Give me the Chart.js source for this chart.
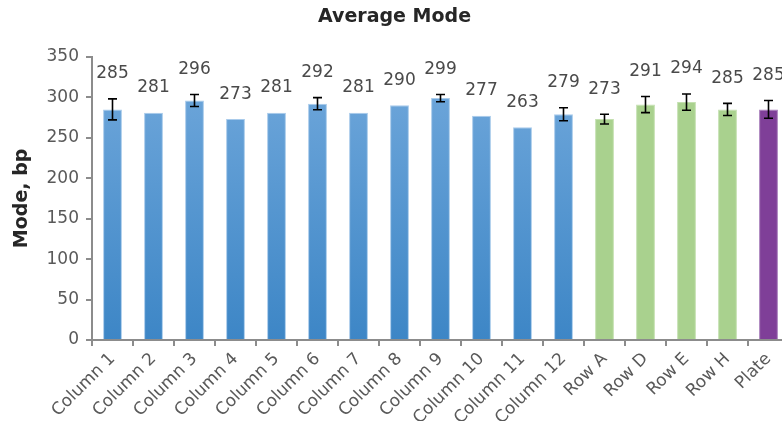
<!DOCTYPE html>
<html>
<head>
<meta charset="utf-8">
<script src="https://cdn.jsdelivr.net/npm/chart.js@4.4.1/dist/chart.umd.min.js"></script>
<style>
  html, body { margin: 0; padding: 0; background: #fff; overflow: hidden; }
  #wrap { width: 782px; height: 421px; overflow: hidden; }
</style>
</head>
<body>
<div id="wrap"><canvas id="chart" width="800" height="421"></canvas></div>
<script>
// --- Data ---
const categories = ['Column 1', 'Column 2', 'Column 3', 'Column 4', 'Column 5', 'Column 6',
    'Column 7', 'Column 8', 'Column 9', 'Column 10', 'Column 11', 'Column 12',
    'Row A', 'Row D', 'Row E', 'Row H', 'Plate'];
const modes = [285, 281, 296, 273, 281, 292, 281, 290, 299, 277, 263, 279, 273, 291, 294, 285, 285];
const errors = [13, 0, 7.5, 0, 0, 7.5, 0, 0, 4.5, 0, 0, 8, 6, 10, 10, 7.5, 11];
const groups = ['column', 'column', 'column', 'column', 'column', 'column',
    'column', 'column', 'column', 'column', 'column', 'column',
    'row', 'row', 'row', 'row', 'plate'];
const yTicks = [0, 50, 100, 150, 200, 250, 300, 350];

const FONT = '"DejaVu Sans", "Open Sans", sans-serif';

function barFill(context) {
    const chart = context.chart;
    const area = chart.chartArea;
    const g = groups[context.dataIndex];
    if (g === 'row') return '#a9d18e';
    if (g === 'plate') return '#7f3f98';
    if (!area) return '#5b9bd5';
    const grad = chart.ctx.createLinearGradient(0, area.top, 0, area.bottom);
    grad.addColorStop(0, '#72a9dc');
    grad.addColorStop(1, '#3d86c6');
    return grad;
}

function barEdge(context) {
    const g = groups[context.dataIndex];
    if (g === 'row') return '#c4e0b0';
    if (g === 'plate') return '#a77cbb';
    return '#a9cbeb';
}

// error bars + value labels
const extras = {
    id: 'extras',
    afterDatasetsDraw(chart) {
        const ctx = chart.ctx;
        const y = chart.scales.y;
        const meta = chart.getDatasetMeta(0);
        ctx.save();
        meta.data.forEach((bar, i) => {
            const err = errors[i];
            const x = bar.x;
            if (err > 0) {
                const yt = y.getPixelForValue(modes[i] + err);
                const yb = y.getPixelForValue(modes[i] - err);
                ctx.strokeStyle = '#000';
                ctx.lineWidth = 1.6;
                ctx.beginPath();
                ctx.moveTo(x, yt); ctx.lineTo(x, yb);
                ctx.moveTo(x - 4.5, yt); ctx.lineTo(x + 4.5, yt);
                ctx.moveTo(x - 4.5, yb); ctx.lineTo(x + 4.5, yb);
                ctx.stroke();
            }
            const top = y.getPixelForValue(modes[i] + err);
            ctx.fillStyle = '#4a4a4a';
            ctx.font = '17px ' + FONT;
            ctx.textAlign = 'center';
            ctx.textBaseline = 'middle';
            ctx.fillText(String(modes[i]), x, top - 25);
        });
        ctx.restore();
    }
};

new Chart(document.getElementById('chart'), {
    type: 'bar',
    data: {
        labels: categories,
        datasets: [{
            data: modes,
            backgroundColor: barFill,
            borderColor: barEdge,
            borderWidth: 1,
            barPercentage: 0.46,
            categoryPercentage: 1
        }]
    },
    options: {
        responsive: false,
        animation: false,
        layout: { padding: { left: 0, right: 11, top: 0, bottom: 0 } },
        plugins: {
            legend: { display: false },
            tooltip: { enabled: false },
            title: {
                display: true,
                text: 'Average Mode',
                color: '#262626',
                font: { family: FONT, size: 19, weight: 'bold' },
                padding: { top: 6, bottom: 28 }
            }
        },
        scales: {
            x: {
                grid: {
                    offset: true,
                    drawOnChartArea: false,
                    tickLength: 6,
                    tickColor: '#8c8c8c',
                    lineWidth: 2
                },
                border: { color: '#8c8c8c', width: 2 },
                ticks: {
                    color: '#595959',
                    font: { family: FONT, size: 17 },
                    maxRotation: 45,
                    minRotation: 45,
                    autoSkip: false,
                    padding: 3
                },
                afterFit(scale) { scale.height = 81; }
            },
            y: {
                min: 0,
                max: 350,
                afterBuildTicks(scale) { scale.ticks = yTicks.map(v => ({ value: v })); },
                grid: {
                    drawOnChartArea: false,
                    tickLength: 6,
                    tickColor: '#8c8c8c',
                    lineWidth: 2
                },
                border: { color: '#8c8c8c', width: 2 },
                ticks: {
                    color: '#595959',
                    font: { family: FONT, size: 17 },
                    padding: 7
                },
                title: {
                    display: true,
                    text: 'Mode, bp',
                    color: '#262626',
                    font: { family: FONT, size: 19, weight: 'bold' },
                    padding: { top: 11, bottom: 0 }
                },
                afterFit(scale) { scale.width = 92; }
            }
        }
    },
    plugins: [extras]
});
</script>
</body>
</html>
